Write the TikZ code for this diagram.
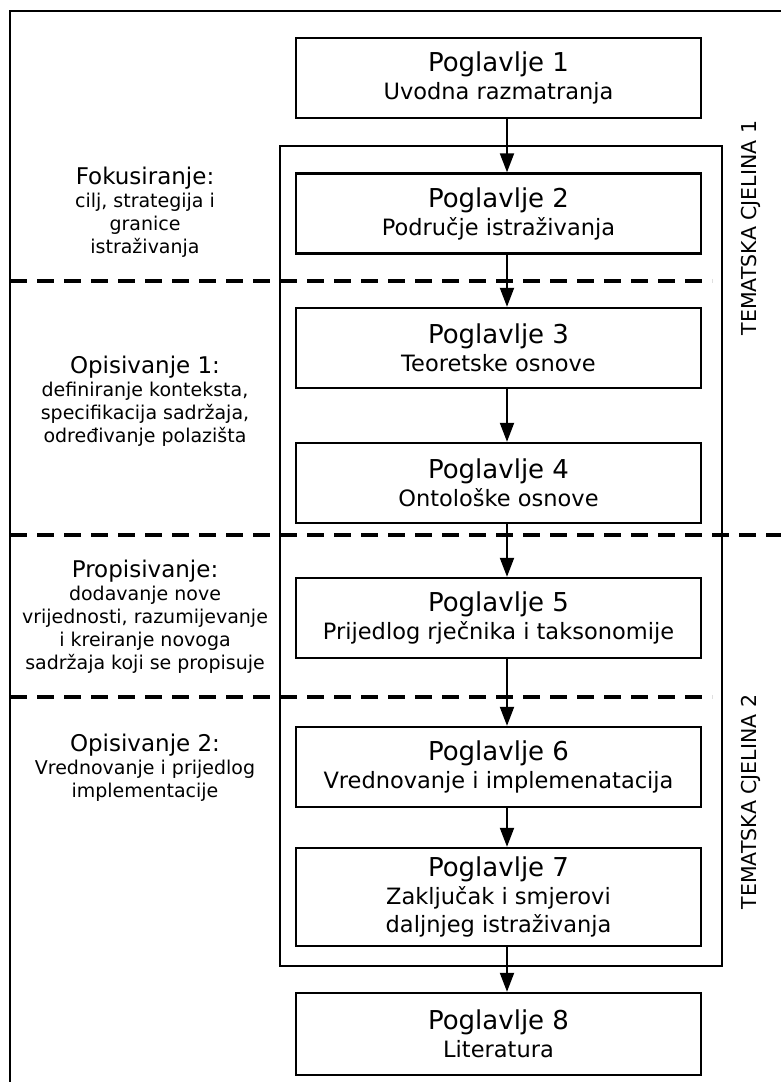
\documentclass[tikz,border=0pt]{standalone}
\usepackage{fontspec}
\setmainfont{DejaVu Sans}
\usetikzlibrary{arrows.meta}

\begin{document}
\begin{tikzpicture}[x=1pt, y=-1pt,
		chapter/.style = {draw, line width=2.4pt, minimum width=405pt, minimum height=80pt, align=center, inner sep=0pt, font=\fontsize{22.5}{28}\selectfont},
		phase/.style = {anchor=north, align=center, inner sep=0pt, font=\fontsize{19}{23}\selectfont},
		cjelina/.style = {rotate=90, inner sep=0pt, font=\fontsize{20.5}{24}\selectfont},
		sep/.style = {line width=3.5pt, dash pattern=on 17pt off 10pt},
		arr/.style = {line width=2pt, -{Triangle[length=19pt, width=14pt]}}]
		\useasboundingbox (0,0) rectangle (780,1082);
		% outer frame and the frame of both thematic units
		\draw [line width=2.4pt] (10,1100) -- (10,11) -- (800,11);
		\draw [line width=2.4pt] (280,146) rectangle (722,966);
		% phase borders
		\draw [sep] (10,281) -- (712,281);
		\draw [sep] (10,535) -- (800,535);
		\draw [sep] (10,697) -- (712,697);
		% chapters
		\node [chapter](b1) at (498.5,78) {{\fontsize{26}{28}\selectfont Poglavlje 1}\\ Uvodna razmatranja};
		\node [chapter](b2) at (498.5,213.5) {{\fontsize{26}{28}\selectfont Poglavlje 2}\\ Područje istraživanja};
		\node [chapter](b3) at (498.5,348) {{\fontsize{26}{28}\selectfont Poglavlje 3}\\ Teoretske osnove};
		\node [chapter](b4) at (498.5,483) {{\fontsize{26}{28}\selectfont Poglavlje 4}\\ Ontološke osnove};
		\node [chapter](b5) at (498.5,618) {{\fontsize{26}{28}\selectfont Poglavlje 5}\\ Prijedlog rječnika i taksonomije};
		\node [chapter](b6) at (498.5,767) {{\fontsize{26}{28}\selectfont Poglavlje 6}\\ Vrednovanje i implemenatacija};
		\node [chapter, minimum height=98pt](b7) at (498.5,897) {{\fontsize{26}{28}\selectfont Poglavlje 7}\\ Zaključak i smjerovi\\ daljnjeg istraživanja};
		\node [chapter, minimum height=82pt](b8) at (498.5,1034) {{\fontsize{26}{28}\selectfont Poglavlje 8}\\ Literatura};
		\foreach \a/\b in {b1/b2, b2/b3, b3/b4, b4/b5, b5/b6, b6/b7, b7/b8}
			\draw [arr] ([xshift=8.5pt]\a.south) -- ([xshift=8.5pt]\b.north);
		% phases on the left
		\node [phase](fok) at (145,166.5) {{\fontsize{23}{23}\selectfont Fokusiranje:}\\ cilj, strategija i\\ granice\\ istraživanja};
		\node [phase](opis1) at (145,355.5) {{\fontsize{23}{23}\selectfont Opisivanje 1:}\\ definiranje konteksta,\\ specifikacija sadržaja,\\ određivanje polazišta};
		\node [phase](prop) at (145,559.5) {{\fontsize{23}{23}\selectfont Propisivanje:}\\ dodavanje nove\\ vrijednosti, razumijevanje\\ i kreiranje novoga\\ sadržaja koji se propisuje};
		\node [phase](opis2) at (145,733.5) {{\fontsize{23}{23}\selectfont Opisivanje 2:}\\ Vrednovanje i prijedlog\\ implementacije};
		% thematic units
		\node [cjelina](tc1) at (751,228) {TEMATSKA CJELINA 1};
		\node [cjelina](tc2) at (751,802) {TEMATSKA CJELINA 2};
\end{tikzpicture}
\end{document}
